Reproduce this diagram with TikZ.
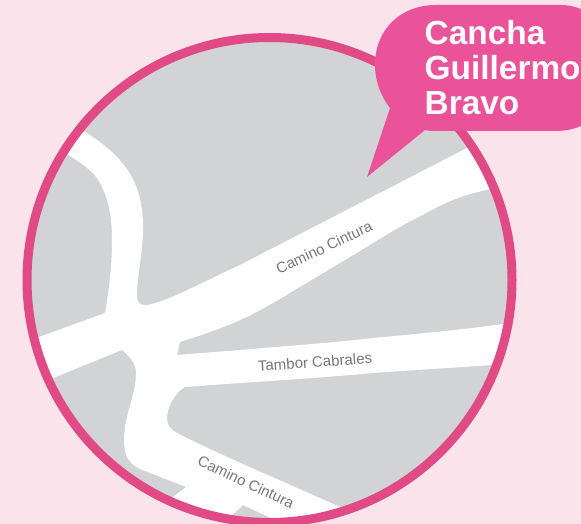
\documentclass[tikz,border=0pt]{standalone}
\usepackage{fontspec}
\setmainfont{Liberation Sans}
\definecolor{bgpink}{HTML}{FBE3EC}
\definecolor{ringpink}{HTML}{E04A85}
\definecolor{bubblepink}{HTML}{EA5299}
\definecolor{mapgrey}{HTML}{D1D3D4}
\definecolor{labelgrey}{HTML}{77787B}
\tikzset{
  roadlabel/.style={text=labelgrey,font=\fontsize{15}{16}\selectfont,inner sep=0pt},
  bubbletext/.style={text=white,font=\fontsize{33.4}{35}\bfseries\selectfont,align=left,anchor=north west,inner sep=0pt}
}
\begin{document}
\begin{tikzpicture}[x=1pt,y=-1pt]
\path[use as bounding box,fill=bgpink] (0,0) rectangle (581,524);
\begin{scope}
\clip (269.5,280) circle[radius=240];
\fill[mapgrey] (269.5,280) circle[radius=240];
\fill[white] (85,132) .. controls (122,155) and (143,180) .. (143,227)
  .. controls (143,255) and (137,275) .. (137,295)
  .. controls (137,303) and (140,305) .. (146,305)
  .. controls (165,303) and (205,281) .. (240,265)
  -- (467,148) -- (510,125) -- (530,180) -- (490,189)
  .. controls (478,192) and (465,195) .. (453,200)
  .. controls (438,206) and (423,215) .. (407,223)
  .. controls (385,235) and (362,250) .. (340,263)
  .. controls (318,276) and (295,290) .. (273,303)
  .. controls (262,309) and (252,315) .. (240,320)
  .. controls (225,327) and (205,334) .. (180,342)
  -- (177,355) -- (240,350)
  .. controls (285,346) and (330,343) .. (373,338)
  .. controls (416,334) and (460,330) .. (503,324)
  -- (530,320) -- (530,363) -- (492,365)
  .. controls (450,368) and (415,370) .. (373,373)
  .. controls (330,377) and (285,380) .. (240,383)
  -- (185,387) .. controls (175,392) and (167,408) .. (167,418)
  .. controls (167,425) and (170,429) .. (177,433)
  .. controls (220,455) and (280,480) .. (340,507)
  -- (380,525) -- (380,540) -- (300,540) -- (290,527) -- (243,505) -- (222,525)
  -- (222,540) -- (150,540) -- (160,507)
  -- (173,497) -- (186,487) -- (140,469)
  .. controls (128,463) and (124,455) .. (124,440)
  .. controls (124,415) and (136,395) .. (136,373)
  .. controls (136,363) and (130,357) .. (122,350)
  -- (53,378) -- (30,389) -- (20,344) -- (39,337) -- (105,313)
  .. controls (109,290) and (112,265) .. (112,240)
  .. controls (112,215) and (108,195) .. (97,178)
  .. controls (90,169) and (80,162) .. (68,155)
  -- (50,141) -- (70,122) -- cycle;
\end{scope}
\draw[ringpink,line width=9pt] (269.5,280) circle[radius=242.5];
\fill[bubblepink] (436,5) -- (560,5) .. controls (590,5) and (610,25) .. (610,68)
  .. controls (610,110) and (590,131) .. (555,131)
  -- (440,131) .. controls (433,131) and (428,131) .. (425,130)
  -- (367,177) -- (390,108)
  .. controls (380,95) and (375,80) .. (375,65)
  .. controls (375,30) and (400,5) .. (436,5) -- cycle;
\node[bubbletext] (title) at (424.5,20.5) {Cancha\\Guillermo\\Bravo};
\node[roadlabel,rotate=25] (cintura1) at (324,247.5) {Camino Cintura};
\node[roadlabel,rotate=4] (tambor) at (315,362) {Tambor Cabrales};
\node[roadlabel,rotate=-25] (cintura2) at (246,482) {Camino Cintura};
\end{tikzpicture}
\end{document}
